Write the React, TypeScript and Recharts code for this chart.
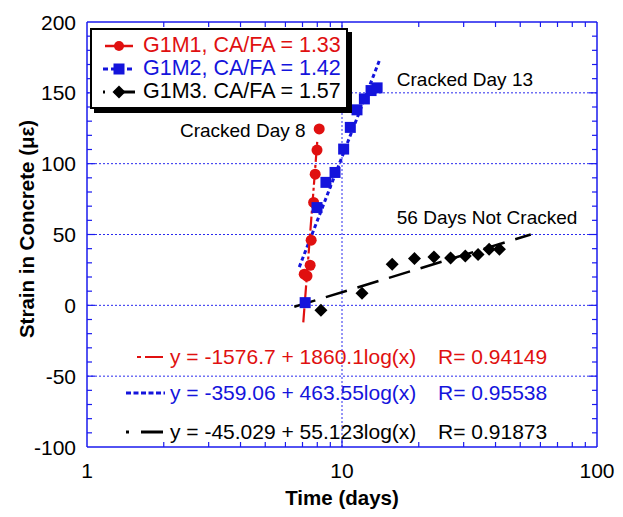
import React from 'react';
import {
  ComposedChart,
  XAxis,
  YAxis,
  Scatter,
  Line,
  ReferenceLine,
  ReferenceDot,
  Legend,
} from 'recharts';

// ---- data ----
const g1m1Days = [7.11, 7.29, 7.5, 7.57, 7.74, 7.85, 7.98, 8.14];
const g1m1Strain = [22, 20.7, 28.3, 46, 72.6, 92.6, 109.6, 124.5];

const g1m2Days = [7.17, 7.98, 8.65, 9.39, 10.15, 10.78, 11.45, 12.24, 13.0, 13.73];
const g1m2Strain = [1.9, 69, 86.8, 93.8, 110.3, 125.6, 138, 145.7, 151.6, 153.5];

const g1m3Days = [8.27, 11.98, 15.73, 19.24, 22.94, 26.66, 30.45, 34.17, 37.76, 41.44];
const g1m3Strain = [-3.5, 8.5, 29, 33, 34.2, 33.5, 34.9, 35.9, 39.6, 39.6];

// fitted-line end points as drawn in the reference
const g1m1FitDays = [7.05, 8.0];
const g1m1FitStrain = [-12, 116];
const g1m2FitDays = [6.8, 14.1];
const g1m2FitStrain = [27, 174];
const g1m3FitDays = [6.5, 55];
const g1m3FitStrain = [-1, 50];

const seriesNames = ['G1M1, CA/FA = 1.33', 'G1M2, CA/FA = 1.42', 'G1M3. CA/FA = 1.57'];
const equations = [
  'y = -1576.7 + 1860.1log(x)',
  'y = -359.06 + 463.55log(x)',
  'y = -45.029 + 55.123log(x)',
];
const rValues = ['R= 0.94149', 'R= 0.95538', 'R= 0.91873'];

const xMajorTicks = [1, 10, 100];
const xAllTicks = [1, 2, 3, 4, 5, 6, 7, 8, 9, 10, 20, 30, 40, 50, 60, 70, 80, 90, 100];
const yMajorTicks = [-100, -50, 0, 50, 100, 150, 200];
const yAllTicks = [
  -100, -90, -80, -70, -60, -50, -40, -30, -20, -10, 0, 10, 20, 30, 40, 50, 60, 70, 80, 90,
  100, 110, 120, 130, 140, 150, 160, 170, 180, 190, 200,
];
const gridY = [-50, 0, 50, 100, 150];
const gridX = [10];

const annotations = [
  { x: 7.2, y: 124, text: 'Cracked Day 8', anchor: 'end' },
  { x: 16.4, y: 160, text: 'Cracked Day 13', anchor: 'start' },
  { x: 16.4, y: 62.5, text: '56 Days Not Cracked', anchor: 'start' },
];

const zip = (xs: number[], ys: number[]) => xs.map((x, i) => ({ x, y: ys[i] }));
const g1m1 = zip(g1m1Days, g1m1Strain);
const g1m2 = zip(g1m2Days, g1m2Strain);
const g1m3 = zip(g1m3Days, g1m3Strain);
const g1m1Fit = zip(g1m1FitDays, g1m1FitStrain);
const g1m2Fit = zip(g1m2FitDays, g1m2FitStrain);
const g1m3Fit = zip(g1m3FitDays, g1m3FitStrain);

// ---- styles ----
const FONT = '"Liberation Sans", Arial, sans-serif';
const RED = '#e01010';
const BLUE = '#1414dc';
const BLACK = '#000000';
const AXIS = '#1a1aee';
const GRID = '#2a2aee';
const RED_DASH = '14 3 3 3';
const BLUE_DASH = '4 3';
const BLACK_DASH = '22 11';
const TICK_FS = 21;

const Circle = (p: any) => <circle cx={p.cx} cy={p.cy} r={5.5} fill={RED} />;
const Square = (p: any) => <rect x={p.cx - 5.5} y={p.cy - 5.5} width={11} height={11} fill={BLUE} />;
const Diamond = (p: any) => (
  <polygon
    points={`${p.cx},${p.cy - 6.5} ${p.cx + 6.5},${p.cy} ${p.cx},${p.cy + 6.5} ${p.cx - 6.5},${p.cy}`}
    fill={BLACK}
  />
);

const BottomTick = (p: any) => {
  const v = p.payload.value;
  const major = xMajorTicks.includes(v);
  return (
    <g>
      {v !== 1 && v !== 100 && (
        <line x1={p.x} x2={p.x} y1={p.y} y2={p.y - (major ? 8 : 5)} stroke={AXIS} strokeWidth={1.2} />
      )}
      {major && (
        <text x={p.x} y={p.y + 31} textAnchor="middle" fontSize={TICK_FS} fontFamily={FONT} fill="#000">
          {v}
        </text>
      )}
    </g>
  );
};
const TopTick = (p: any) => {
  const v = p.payload.value;
  const major = xMajorTicks.includes(v);
  if (v === 1 || v === 100) return <g />;
  return <line x1={p.x} x2={p.x} y1={p.y} y2={p.y + (major ? 8 : 5)} stroke={AXIS} strokeWidth={1.2} />;
};
const LeftTick = (p: any) => {
  const v = p.payload.value;
  const major = yMajorTicks.includes(v);
  return (
    <g>
      {v !== -100 && v !== 200 && (
        <line x1={p.x} x2={p.x + (major ? 8 : 5)} y1={p.y} y2={p.y} stroke={AXIS} strokeWidth={1.2} />
      )}
      {major && (
        <text x={p.x - 11} y={p.y + 7.5} textAnchor="end" fontSize={TICK_FS} fontFamily={FONT} fill="#000">
          {v}
        </text>
      )}
    </g>
  );
};
const RightTick = (p: any) => {
  const v = p.payload.value;
  const major = yMajorTicks.includes(v);
  if (v === -100 || v === 200) return <g />;
  return <line x1={p.x} x2={p.x - (major ? 8 : 5)} y1={p.y} y2={p.y} stroke={AXIS} strokeWidth={1.2} />;
};

const Sample = ({ kind }: { kind: number }) => {
  if (kind === 0)
    return (
      <svg width={36} height={22} style={{ display: 'block' }}>
        <line x1={2} x2={30} y1={11} y2={11} stroke={RED} strokeWidth={2.5} />
        <circle cx={16} cy={11} r={5} fill={RED} />
      </svg>
    );
  if (kind === 1)
    return (
      <svg width={36} height={22} style={{ display: 'block' }}>
        <line x1={0} x2={32} y1={11} y2={11} stroke={BLUE} strokeWidth={3} strokeDasharray="5 3" />
        <rect x={10.5} y={5.5} width={11} height={11} fill={BLUE} />
      </svg>
    );
  return (
    <svg width={36} height={22} style={{ display: 'block' }}>
      <line x1={0} x2={2} y1={11} y2={11} stroke={BLACK} strokeWidth={3} />
      <line x1={11} x2={32} y1={11} y2={11} stroke={BLACK} strokeWidth={3} />
      <polygon points="16,4.5 22.5,11 16,17.5 9.5,11" fill={BLACK} />
    </svg>
  );
};

const legendColors = [RED, BLUE, BLACK];

const LegendBox = () => (
  <div
    style={{
      border: '2px solid #000',
      boxShadow: '4px 4px 0 #000',
      background: '#fff',
      padding: '4px 5px 4px 11px',
      fontFamily: FONT,
      fontSize: 21.5,
      lineHeight: '23px',
      whiteSpace: 'nowrap',
    }}
  >
    {seriesNames.map((n, i) => (
      <div key={n} style={{ display: 'flex', alignItems: 'center', height: 23 }}>
        <Sample kind={i} />
        <span style={{ color: legendColors[i], marginLeft: 4 }}>{n}</span>
      </div>
    ))}
  </div>
);

const EqSample = ({ kind }: { kind: number }) => (
  <svg width={42} height={20} style={{ display: 'block' }}>
    {kind === 0 && (
      <>
        <line x1={12} x2={16} y1={10} y2={10} stroke={RED} strokeWidth={2} />
        <line x1={20} x2={38} y1={10} y2={10} stroke={RED} strokeWidth={2} />
      </>
    )}
    {kind === 1 && (
      <line x1={1} x2={40} y1={10} y2={10} stroke={BLUE} strokeWidth={3} strokeDasharray="5 2.5" />
    )}
    {kind === 2 && (
      <>
        <line x1={1} x2={4} y1={10} y2={10} stroke={BLACK} strokeWidth={3} />
        <line x1={16} x2={38} y1={10} y2={10} stroke={BLACK} strokeWidth={3} />
      </>
    )}
  </svg>
);

const eqTops = [345, 381, 420];

export default function App() {
  return (
    <div style={{ position: 'absolute', left: 0, top: 0, width: 623, height: 517, background: '#fff' }}>
      <ComposedChart width={623} height={517} margin={{ top: 21, right: 25, bottom: 0, left: 0 }}>
        <XAxis
          xAxisId="b"
          dataKey="x"
          type="number"
          scale="log"
          domain={[1, 100]}
          ticks={xAllTicks}
          interval={0}
          allowDataOverflow
          height={70}
          tickSize={0}
          tickMargin={0}
          tickLine={false}
          tick={BottomTick}
          axisLine={{ stroke: AXIS, strokeWidth: 1.5 }}
          label={{
            content: () => (
              <text x={342} y={505} textAnchor="middle" fontSize={20.5} fontWeight="bold" fontFamily={FONT}>
                Time (days)
              </text>
            ),
          }}
        />
        <XAxis
          xAxisId="t"
          orientation="top"
          dataKey="x"
          type="number"
          scale="log"
          domain={[1, 100]}
          ticks={xAllTicks}
          interval={0}
          allowDataOverflow
          height={1}
          tickSize={0}
          tickMargin={0}
          tickLine={false}
          tick={TopTick}
          axisLine={{ stroke: AXIS, strokeWidth: 1.5 }}
        />
        <YAxis
          yAxisId="l"
          dataKey="y"
          type="number"
          domain={[-100, 200]}
          ticks={yAllTicks}
          interval={0}
          allowDataOverflow
          width={87}
          tickSize={0}
          tickMargin={0}
          tickLine={false}
          tick={LeftTick}
          axisLine={{ stroke: AXIS, strokeWidth: 1.5 }}
          label={{
            content: () => (
              <text
                transform="translate(34,229) rotate(-90)"
                textAnchor="middle"
                fontSize={20.5}
                fontWeight="bold"
                fontFamily={FONT}
              >
                Strain in Concrete (με)
              </text>
            ),
          }}
        />
        <YAxis
          yAxisId="r"
          orientation="right"
          dataKey="y"
          type="number"
          domain={[-100, 200]}
          ticks={yAllTicks}
          interval={0}
          allowDataOverflow
          width={1}
          tickSize={0}
          tickMargin={0}
          tickLine={false}
          tick={RightTick}
          axisLine={{ stroke: AXIS, strokeWidth: 1.5 }}
        />

        {gridY.map((v) => (
          <ReferenceLine key={'gy' + v} xAxisId="b" yAxisId="l" y={v} stroke={GRID} strokeDasharray="2 2" strokeWidth={1} />
        ))}
        {gridX.map((v) => (
          <ReferenceLine key={'gx' + v} xAxisId="b" yAxisId="l" x={v} stroke={GRID} strokeDasharray="2 2" strokeWidth={1} />
        ))}

        <Line
          xAxisId="b"
          yAxisId="l"
          data={g1m3Fit}
          dataKey="y"
          stroke={BLACK}
          strokeWidth={2.5}
          strokeDasharray={BLACK_DASH}
          dot={false}
          isAnimationActive={false}
          legendType="none"
        />
        <Line
          xAxisId="b"
          yAxisId="l"
          data={g1m2Fit}
          dataKey="y"
          stroke={BLUE}
          strokeWidth={3}
          strokeDasharray={BLUE_DASH}
          dot={false}
          isAnimationActive={false}
          legendType="none"
        />
        <Line
          xAxisId="b"
          yAxisId="l"
          data={g1m1Fit}
          dataKey="y"
          stroke={RED}
          strokeWidth={2.2}
          strokeDasharray={RED_DASH}
          dot={false}
          isAnimationActive={false}
          legendType="none"
        />

        <Scatter xAxisId="b" yAxisId="l" name={seriesNames[2]} data={g1m3} fill={BLACK} shape={Diamond} isAnimationActive={false} />
        <Scatter xAxisId="b" yAxisId="l" name={seriesNames[0]} data={g1m1} fill={RED} shape={Circle} isAnimationActive={false} />
        <Scatter xAxisId="b" yAxisId="l" name={seriesNames[1]} data={g1m2} fill={BLUE} shape={Square} isAnimationActive={false} />

        {annotations.map((a) => (
          <ReferenceDot
            key={a.text}
            xAxisId="b"
            yAxisId="l"
            x={a.x}
            y={a.y}
            r={0}
            ifOverflow="visible"
            shape={(p: any) => (
              <text x={p.cx} y={p.cy + 7} textAnchor={a.anchor} fontSize={19} fontFamily={FONT} fill="#000">
                {a.text}
              </text>
            )}
          />
        ))}

        <Legend
          layout="horizontal"
          verticalAlign="middle"
          align="center"
          content={() => <LegendBox />}
          wrapperStyle={{ position: 'absolute', left: 90, top: 28, width: 'auto', height: 'auto' }}
        />
      </ComposedChart>

      {equations.map((eq, i) => (
        <div
          key={eq}
          style={{
            position: 'absolute',
            left: 125,
            top: eqTops[i],
            height: 24,
            display: 'flex',
            alignItems: 'center',
            fontFamily: FONT,
            fontSize: 21,
            color: legendColors[i],
            whiteSpace: 'nowrap',
          }}
        >
          <EqSample kind={i} />
          <span style={{ marginLeft: 3, width: 268, display: 'inline-block' }}>{eq}</span>
          <span>{rValues[i]}</span>
        </div>
      ))}
    </div>
  );
}
